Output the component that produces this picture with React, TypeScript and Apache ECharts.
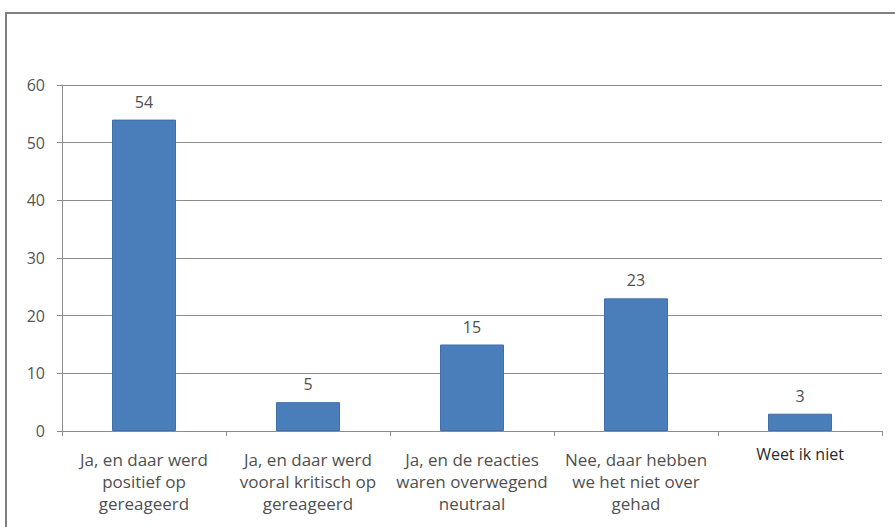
import React, { useEffect, useRef } from "react";
import * as echarts from "echarts";

const categories = [
  "Ja, en daar werd\npositief op\ngereageerd",
  "Ja, en daar werd\nvooral kritisch op\ngereageerd",
  "Ja, en de reacties\nwaren overwegend\nneutraal",
  "Nee, daar hebben\nwe het niet over\ngehad",
  "Weet ik niet",
];
const values = [54, 5, 15, 23, 3];
const yTicks = [0, 10, 20, 30, 40, 50, 60];

const FONT = "'Open Sans', 'Liberation Sans', sans-serif";

export default function App() {
  const ref = useRef<HTMLDivElement>(null);
  useEffect(() => {
    if (!ref.current) return;
    const chart = echarts.init(ref.current, undefined, { renderer: "svg" });
    chart.setOption({
      animation: false,
      backgroundColor: "#ffffff",
      graphic: [
        {
          type: "rect",
          shape: { x: 6, y: 13, width: 1000, height: 1000 },
          style: { fill: "none", stroke: "#808080", lineWidth: 2 },
          silent: true,
        },
      ],
      grid: { left: 62, right: 13, top: 85, bottom: 96, containLabel: false },
      xAxis: {
        type: "category",
        data: categories.map((c, i) =>
          i === categories.length - 1
            ? { value: c, textStyle: { color: "#2a2a2a", fontFamily: FONT, fontSize: 16, lineHeight: 12 } }
            : c
        ),
        axisLine: { show: true, lineStyle: { color: "#8c8c8c", width: 1 } },
        axisTick: { show: true, length: 5, alignWithLabel: false, lineStyle: { color: "#8c8c8c" } },
        axisLabel: {
          interval: 0,
          color: "#505050",
          fontFamily: FONT,
          fontSize: 17,
          lineHeight: 22,
          margin: 17,
        },
      },
      yAxis: {
        type: "value",
        min: yTicks[0],
        max: yTicks[yTicks.length - 1],
        interval: 10,
        axisLine: { show: true, lineStyle: { color: "#8c8c8c" } },
        axisTick: { show: true, length: 5, lineStyle: { color: "#8c8c8c" } },
        axisLabel: { color: "#555555", fontFamily: FONT, fontSize: 16, margin: 17 },
        splitLine: { show: true, lineStyle: { color: "#8c8c8c", width: 1 } },
      },
      series: [
        {
          type: "bar",
          data: values,
          barWidth: 64,
          itemStyle: { color: "#4a7ebb", borderColor: "#3e6fa8", borderWidth: 1 },
          label: {
            show: true,
            position: "top",
            distance: 10,
            color: "#505050",
            fontFamily: FONT,
            fontSize: 16,
          },
        },
      ],
    });
    return () => chart.dispose();
  }, []);
  return (
    <div
      ref={ref}
      style={{ position: "fixed", left: 0, top: 0, width: 895, height: 527 }}
    />
  );
}
